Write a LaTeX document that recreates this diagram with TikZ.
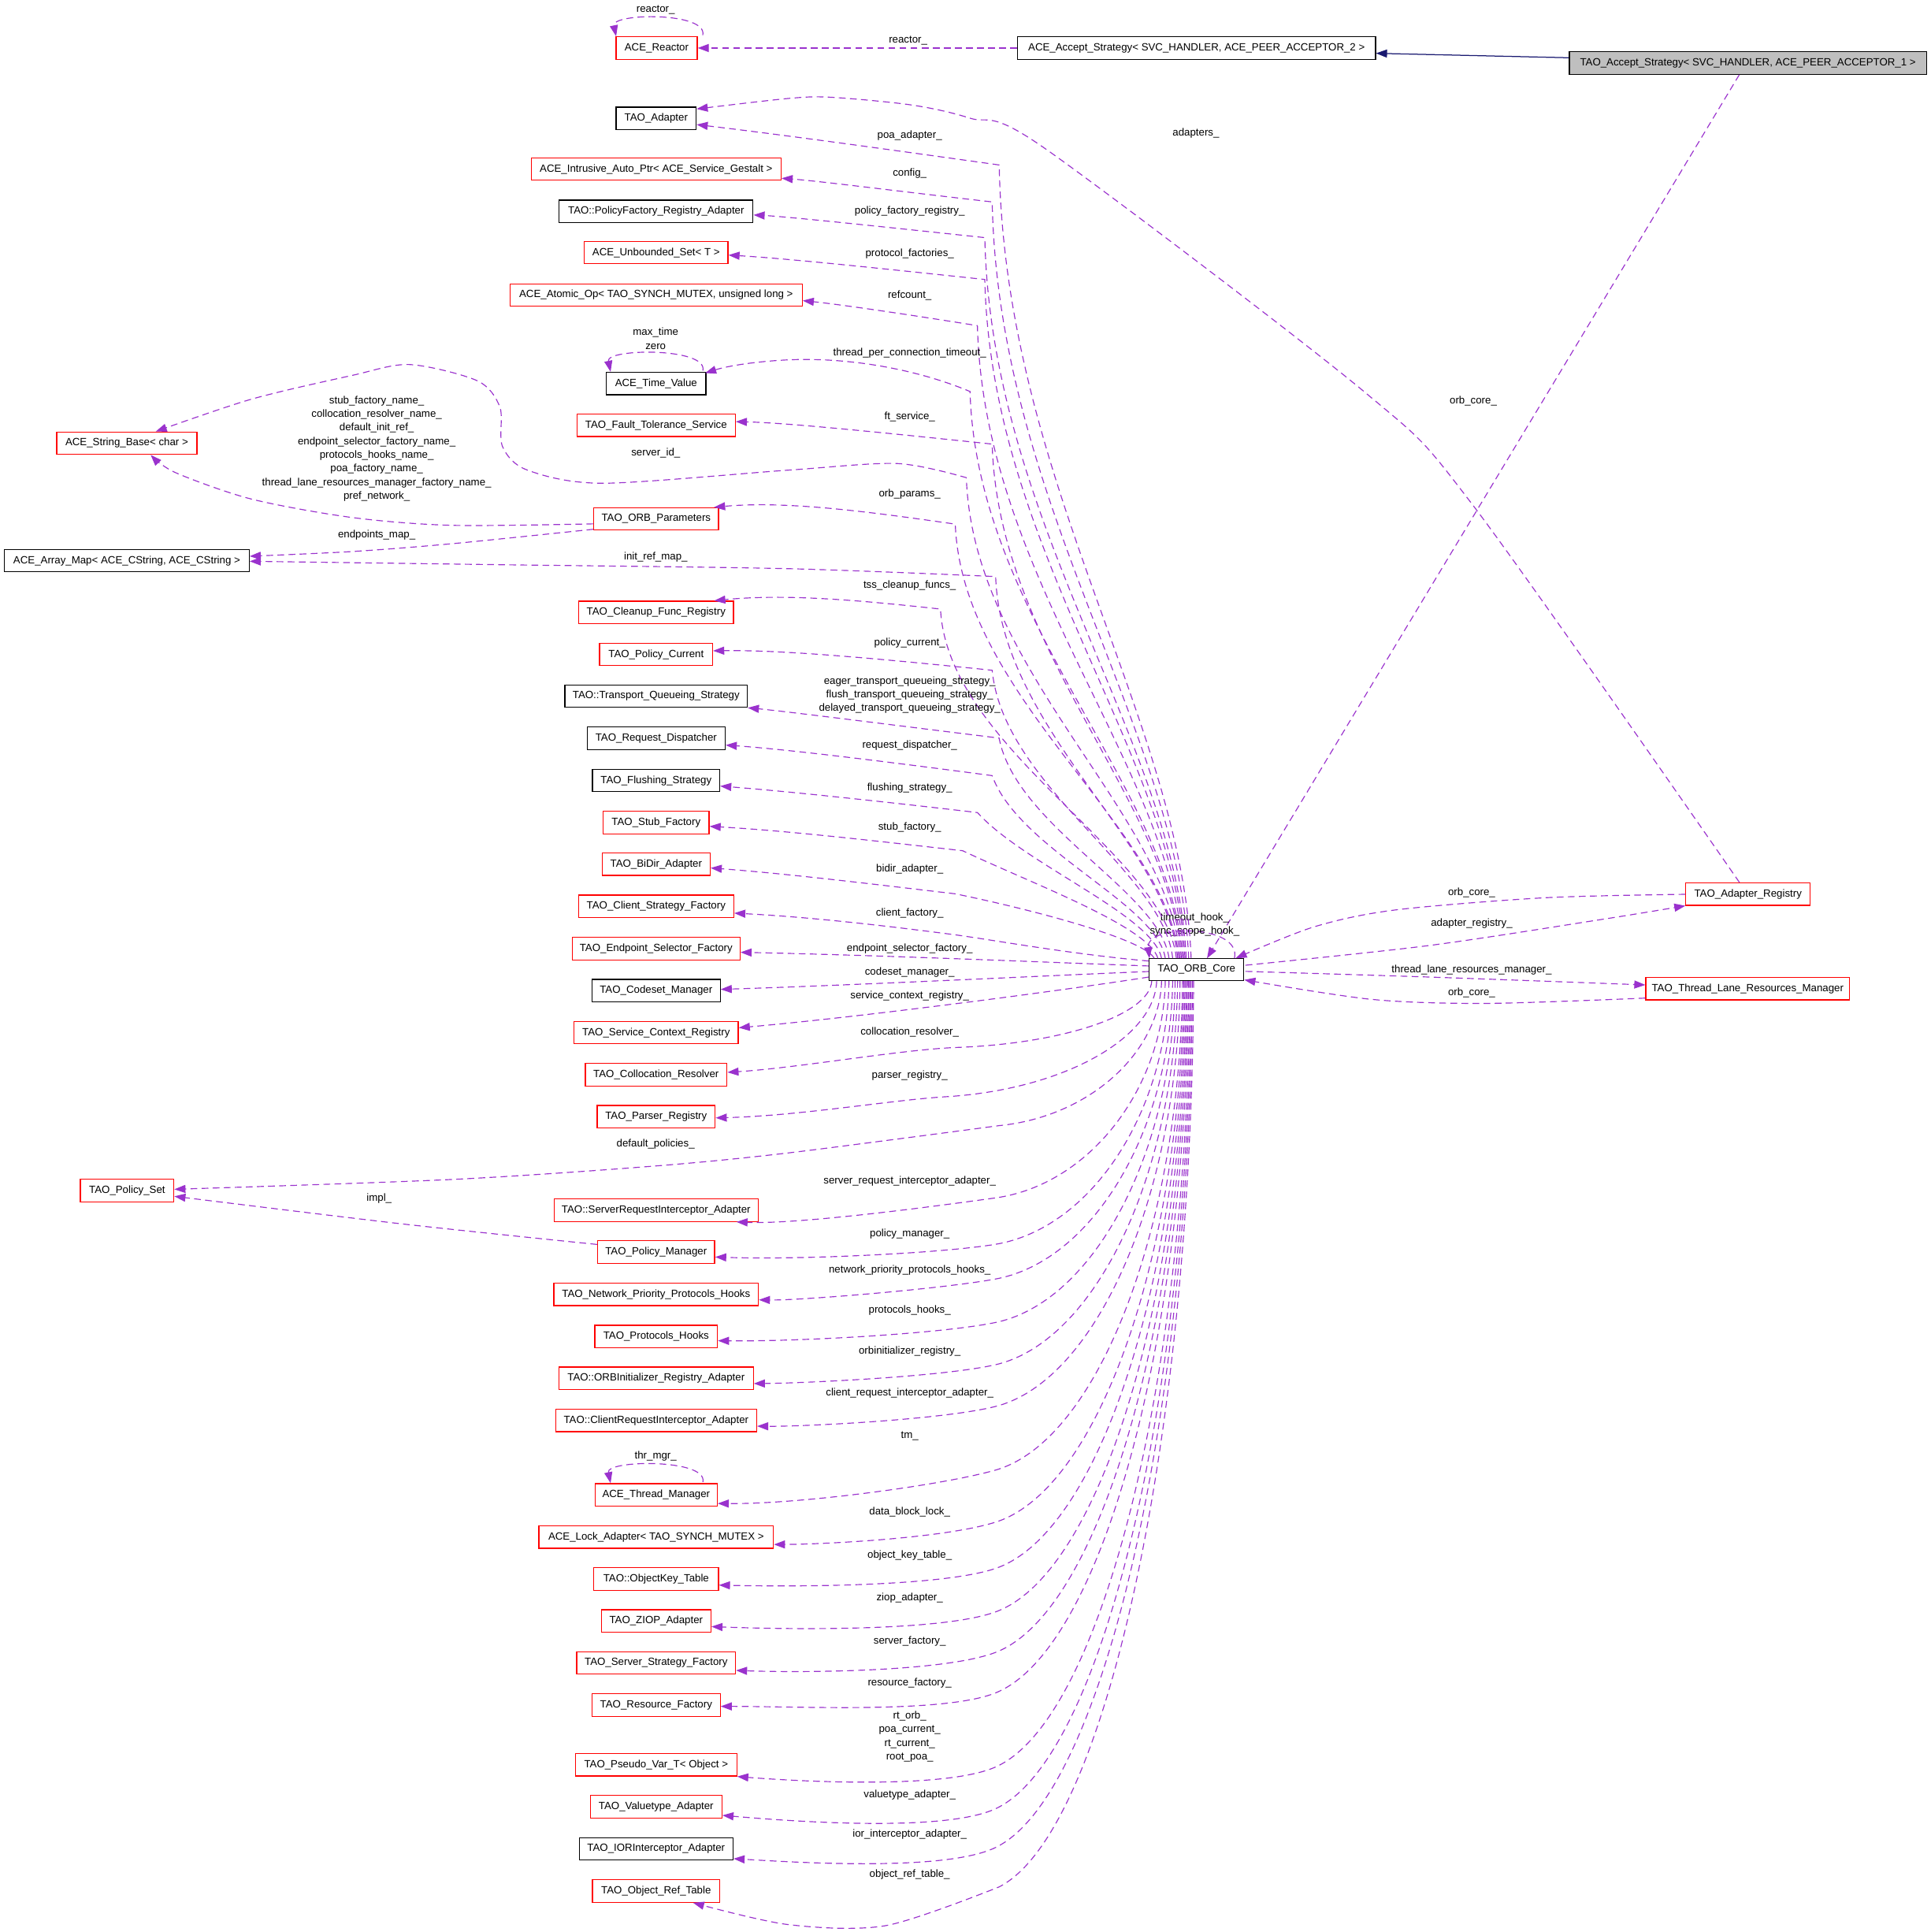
\documentclass[tikz,border=0pt]{standalone}
\usepackage{fontspec}
\setmainfont{Liberation Sans}
\usetikzlibrary{arrows.meta,calc}
\definecolor{dxpurple}{HTML}{9A32CD}
\definecolor{dxnavy}{HTML}{191970}
\definecolor{dxred}{HTML}{FF0000}
\definecolor{dxgray}{HTML}{BFBFBF}
\newcommand\lblfont{\fontsize{8.5}{11.1}\selectfont}
\begin{document}
\begin{tikzpicture}[x=1pt,y=-1pt,
 box/.style={draw=black,line width=0.8pt,inner sep=0pt,minimum height=18.2pt,font=\lblfont,fill=white},
 rbox/.style={box,draw=dxred},
 dep/.style={draw=dxpurple,line width=0.75pt,dash pattern=on 5.5pt off 3.5pt,-{Triangle[length=9pt,width=6.5pt]}},
 inh/.style={draw=dxnavy,line width=0.8pt,-{Triangle[length=9pt,width=6.5pt]}},
 lab/.style={font=\lblfont,inner sep=0pt,align=center}]
\useasboundingbox (0,0) rectangle (1568.64,1569.28);

% ---------- nodes ----------
\node[rbox,minimum width=66pt] (reactor) at (533.4,39) {ACE\_Reactor};
\node[box,minimum width=65pt] (adapter) at (533,96.2) {TAO\_Adapter};
\node[rbox,minimum width=203pt] (intrusive) at (533,137.3) {ACE\_Intrusive\_Auto\_Ptr< ACE\_Service\_Gestalt >};
\node[box,minimum width=157.5pt] (pfreg) at (533,171.6) {TAO::PolicyFactory\_Registry\_Adapter};
\node[rbox,minimum width=116.7pt] (unbset) at (533,205.2) {ACE\_Unbounded\_Set< T >};
\node[rbox,minimum width=237.4pt] (atomic) at (533,239.7) {ACE\_Atomic\_Op< TAO\_SYNCH\_MUTEX, unsigned long >};
\node[box,minimum width=80.8pt] (timev) at (533,311.5) {ACE\_Time\_Value};
\node[rbox,minimum width=113.9pt] (strbase) at (103,360) {ACE\_String\_Base< char >};
\node[rbox,minimum width=128.6pt] (fts) at (533,345.5) {TAO\_Fault\_Tolerance\_Service};
\node[rbox,minimum width=101.3pt] (orbparams) at (533,421.5) {TAO\_ORB\_Parameters};
\node[box,minimum width=198.8pt] (arraymap) at (103,455.4) {ACE\_Array\_Map< ACE\_CString, ACE\_CString >};
\node[rbox,minimum width=125.7pt] (cleanup) at (533,497.4) {TAO\_Cleanup\_Func\_Registry};
\node[rbox,minimum width=91.8pt] (polcur) at (533,531.6) {TAO\_Policy\_Current};
\node[box,minimum width=148.2pt] (tqs) at (533,565.4) {TAO::Transport\_Queueing\_Strategy};
\node[box,minimum width=112.2pt] (reqdisp) at (533,599.7) {TAO\_Request\_Dispatcher};
\node[box,minimum width=103.3pt] (flush) at (533,634) {TAO\_Flushing\_Strategy};
\node[rbox,minimum width=86.1pt] (stubf) at (533,668.2) {TAO\_Stub\_Factory};
\node[rbox,minimum width=87.8pt] (bidir) at (533,702) {TAO\_BiDir\_Adapter};
\node[rbox,minimum width=126.1pt] (csf) at (533,736.2) {TAO\_Client\_Strategy\_Factory};
\node[rbox,minimum width=136.3pt] (esf) at (533,770.5) {TAO\_Endpoint\_Selector\_Factory};
\node[box,minimum width=104.1pt] (codeset) at (533,804.6) {TAO\_Codeset\_Manager};
\node[rbox,minimum width=133.5pt] (scr) at (533,838.8) {TAO\_Service\_Context\_Registry};
\node[rbox,minimum width=115.1pt] (coll) at (533,873) {TAO\_Collocation\_Resolver};
\node[rbox,minimum width=95.9pt] (parser) at (533,907) {TAO\_Parser\_Registry};
\node[rbox,minimum width=75.9pt] (polset) at (103.3,967) {TAO\_Policy\_Set};
\node[rbox,minimum width=165.7pt] (sria) at (533,983) {TAO::ServerRequestInterceptor\_Adapter};
\node[rbox,minimum width=95.1pt] (polmgr) at (533,1017) {TAO\_Policy\_Manager};
\node[rbox,minimum width=166.1pt] (nph) at (533,1051.3) {TAO\_Network\_Priority\_Protocols\_Hooks};
\node[rbox,minimum width=99.6pt] (ph) at (533,1085.5) {TAO\_Protocols\_Hooks};
\node[rbox,minimum width=157.9pt] (orbinit) at (533,1119.5) {TAO::ORBInitializer\_Registry\_Adapter};
\node[rbox,minimum width=163.3pt] (cria) at (533,1153.7) {TAO::ClientRequestInterceptor\_Adapter};
\node[rbox,minimum width=99.2pt] (thrmgr) at (533,1214.2) {ACE\_Thread\_Manager};
\node[rbox,minimum width=190.6pt] (lock) at (533,1248.5) {ACE\_Lock\_Adapter< TAO\_SYNCH\_MUTEX >};
\node[rbox,minimum width=101.2pt] (okt) at (533,1282.5) {TAO::ObjectKey\_Table};
\node[rbox,minimum width=89pt] (ziop) at (533,1316.6) {TAO\_ZIOP\_Adapter};
\node[rbox,minimum width=129pt] (ssf) at (533,1350.8) {TAO\_Server\_Strategy\_Factory};
\node[rbox,minimum width=104.1pt] (resf) at (533,1385) {TAO\_Resource\_Factory};
\node[rbox,minimum width=131pt] (pseudo) at (533,1433.5) {TAO\_Pseudo\_Var\_T< Object >};
\node[rbox,minimum width=106.9pt] (vta) at (533,1467.5) {TAO\_Valuetype\_Adapter};
\node[box,minimum width=124.9pt] (ior) at (533,1501.7) {TAO\_IORInterceptor\_Adapter};
\node[rbox,minimum width=103.3pt] (ort) at (533,1536) {TAO\_Object\_Ref\_Table};
\node[box,minimum width=290.7pt] (aceacc) at (972,39) {ACE\_Accept\_Strategy< SVC\_HANDLER, ACE\_PEER\_ACCEPTOR\_2 >};
\node[box,fill=dxgray,minimum width=290.2pt] (taoacc) at (1419.9,51.2) {TAO\_Accept\_Strategy< SVC\_HANDLER, ACE\_PEER\_ACCEPTOR\_1 >};
\node[box,minimum width=76.8pt,minimum height=17.7pt] (core) at (972,787.6) {TAO\_ORB\_Core};
\node[rbox,minimum width=101pt] (adreg) at (1420,726.2) {TAO\_Adapter\_Registry};
\node[rbox,minimum width=165.4pt] (tlrm) at (1419.7,803) {TAO\_Thread\_Lane\_Resources\_Manager};

% ---------- top ----------
\draw[inh] ($(taoacc.west)+(0,-4.3)$) -- ($(aceacc.east)+(0,4.3)$);
\draw[dep] (aceacc.west) -- (reactor.east);
\node[lab] (l_reactor) at (737.7,33) {reactor\_};
\draw[dep] ($(reactor.north)+(37.5,-1)$) .. controls +(4,-19) and +(-4,-19) .. ($(reactor.north west)+(0.5,0)$);
\node[lab] (l_reactorself) at (532.6,8) {reactor\_};
\draw[dep] ($(timev.north)+(38,-1)$) .. controls +(4,-19) and +(-4,-19) .. ($(timev.north)+(-37,0)$);
\node[lab] (l_timevself) at (532.6,275) {max\_time\\zero};
\draw[dep] ($(thrmgr.north)+(38,-1)$) .. controls +(4,-19) and +(-4,-19) .. ($(thrmgr.north)+(-37,0)$);
\node[lab] (l_thrself) at (532.6,1183) {thr\_mgr\_};

\draw[dep] ($(taoacc.south)+(-7,0)$) -- ($(core.north)+(8.5,0)$);
\node[lab] (l_orbcore1) at (1196.8,325.8) {orb\_core\_};
\draw[dep] plot[smooth] coordinates {($(adreg.north)+(-7,0)$) (1197,411) (1108,318) (847.3,119.5) (788,96) (740.7,85.3) (675,79) (640,80) ($(adapter.east)+(0,-7.7)$)};
\node[lab] (l_adapters) at (971.5,108) {adapters\_};

% ---------- right side ----------
\draw[dep] plot[smooth] coordinates {($(adreg.west)+(0,0.2)$) (1254.9,729.2) (1132.7,739.2) (1066.9,753) ($(core.north east)+(-7,0)$)};
\node[lab] (l_orbcore2) at (1195.5,725) {orb\_core\_};
\draw[dep] plot[smooth] coordinates {($(core.east)+(1,-3.6)$) (1160.8,768) (1301.8,746.7) (adreg.south west)};
\node[lab] (l_adreg) at (1195.5,750) {adapter\_registry\_};
\draw[dep] plot[smooth] coordinates {($(core.east)+(1,1.4)$) (1160.8,793.6) ($(tlrm.west)+(0,-3)$)};
\node[lab] (l_tlrm) at (1195.5,787.6) {thread\_lane\_resources\_manager\_};
\draw[dep] plot[smooth] coordinates {($(tlrm.west)+(0,7.7)$) (1207.8,815) (1113.9,811.7) ($(core.south east)+(0,-1)$)};
\node[lab] (l_orbcore3) at (1195.5,806.3) {orb\_core\_};
\draw[dep] ($(core.north east)+(-8,0)$) .. controls +(6,-28) and +(-3,-28) .. ($(core.north west)+(0.5,0)$);
\node[lab] (l_hooks) at (970.5,751) {timeout\_hook\_\\sync\_scope\_hook\_};

% ---------- upper members ----------
\draw[dep] ($(core.north west)+(34.4,0)$) .. controls (960.2,585.5) and (816.4,392) .. (811.7,134) .. controls (725.9,122) and (640,110) .. ($(adapter.east)+(0,5)$);
\node[lab] (l1) at (739,110) {poa\_adapter\_};
\draw[dep] ($(core.north west)+(32.4,0)$) .. controls (958,594.5) and (810.8,410) .. (806,164) .. controls (735,156) and (665,147) .. ($(intrusive.east)+(0,7.5)$);
\node[lab] (l2) at (739,141) {config\_};
\draw[dep] ($(core.north west)+(30.4,0)$) .. controls (955.8,603.2) and (804.9,427.4) .. (800,193) .. controls (720,184.5) and (640,176) .. ($(pfreg.east)+(0,3)$);
\node[lab] (l3) at (739,171.7) {policy\_factory\_registry\_};
\draw[dep] ($(core.north west)+(29.4,0)$) .. controls (954.9,613.4) and (804.9,447.8) .. (800,227) .. controls (720,218.5) and (640,210) .. ($(unbset.east)+(0,2)$);
\node[lab] (l4) at (739,206) {protocol\_factories\_};
\draw[dep] ($(core.north west)+(28.4,0)$) .. controls (953.6,624.7) and (799,470.3) .. (794,264.5) .. controls (735,255) and (680,247) .. ($(atomic.east)+(0,4.5)$);
\node[lab] (l5) at (739,240) {refcount\_};
\draw[dep] ($(core.north west)+(27.4,0)$) .. controls (952.4,640.7) and (793.2,502.4) .. (788,318) .. controls (745,300) and (690,290) .. (640,292.3) .. controls (615,293.5) and (592,297) .. ($(timev.north east)+(-1,1)$);
\node[lab] (l6) at (739,286.5) {thread\_per\_connection\_timeout\_};
\draw[dep] ($(core.north west)+(26.4,0)$) .. controls (952.3,653.5) and (810.6,528) .. (806,360.7) .. controls (723,352) and (640,343.4) .. ($(fts.east)+(0,-3)$);
\node[lab] (l7) at (739,338.3) {ft\_service\_};
\draw[dep] ($(core.north west)+(25.4,0)$) .. controls (950.3,661.7) and (790.2,544.4) .. (785,388) -- plot[smooth] coordinates {(785,388) (728.8,376.5) (640,381.9) (489.8,392.5) (428.6,381.9) (408.2,362.7) (406.1,330.7) (387.8,309.3) (332.7,296.1) (285.7,305) (204,324.3) ($(strbase.north)+(23.5,0)$)};
\node[lab] (l8) at (532.7,367.8) {server\_id\_};
\draw[dep] ($(core.north west)+(24.4,0)$) .. controls (948.9,673) and (781.5,567) .. (776,425.7) .. controls (708,416) and (640,406.6) .. ($(orbparams.north east)+(-4,0)$);
\node[lab] (l9) at (739,401) {orb\_params\_};
\draw[dep] ($(core.north west)+(23.4,0)$) .. controls (949.6,685.8) and (813.2,592.6) .. (808.8,468.3) -- plot[smooth] coordinates {(808.8,468.3) (640,461.9) (408.2,458.7) ($(arraymap.east)+(0,0.5)$)};
\node[lab] (l10) at (532.7,452.3) {init\_ref\_map\_};
\draw[dep] ($(core.north west)+(22.4,0)$) .. controls (946.4,693.7) and (769.8,608.4) .. (764,494.7) .. controls (702,488) and (640,482) .. ($(cleanup.north east)+(-16,0)$);
\node[lab] (l11) at (739,475.7) {tss\_cleanup\_funcs\_};
\draw[dep] ($(core.north west)+(19.4,0)$) .. controls (945.7,708.6) and (814.8,638.2) .. (806,544.4) .. controls (723,536) and (640,527.8) .. ($(polcur.east)+(0,-3)$);
\node[lab] (l12) at (739,522) {policy\_current\_};
\draw[dep] ($(core.north west)+(16.4,0)$) .. controls (943.1,725.2) and (825.4,671.3) .. (811.6,599.5) .. controls (726,589) and (640,578) .. (tqs.south east);
\node[lab] (l13) at (739,564.6) {eager\_transport\_queueing\_strategy\_\\flush\_transport\_queueing\_strategy\_\\delayed\_transport\_queueing\_strategy\_};
\draw[dep] ($(core.north west)+(13.4,0)$) .. controls (940,734.3) and (827.2,689.6) .. (806,630) .. controls (723,619) and (640,608.7) .. ($(reqdisp.east)+(0,5.5)$);
\node[lab] (l14) at (739,605.7) {request\_dispatcher\_};
\draw[dep] ($(core.north west)+(10.4,0)$) .. controls (936.5,743.3) and (831.5,701.7) .. (794,660) .. controls (717,651) and (640,642.8) .. ($(flush.east)+(0,4.5)$);
\node[lab] (l15) at (739,639.9) {flushing\_strategy\_};
\draw[dep] ($(core.north west)+(7.4,0)$) .. controls (933,752.6) and (837.7,717.4) .. (782,691) .. controls (711,683) and (640,674.8) .. ($(stubf.east)+(0,3)$);
\node[lab] (l16) at (739,672.2) {stub\_factory\_};
\draw[dep] ($(core.north west)+(4.4,0)$) .. controls (929.9,763.1) and (840.8,739.3) .. (776,726) .. controls (708,718) and (640,709.7) .. ($(bidir.east)+(0,3)$);
\node[lab] (l17) at (739,706) {bidir\_adapter\_};
\draw[dep] ($(core.west)+(0,-7)$) .. controls (870,775) and (810,764) .. (776,759.3) .. controls (720,752) and (660,745) .. ($(csf.east)+(0,5.5)$);
\node[lab] (l18) at (739,742) {client\_factory\_};
\draw[dep] ($(core.west)+(0,-3)$) .. controls (860,782) and (720,776) .. ($(esf.east)+(0,3)$);
\node[lab] (l19) at (739,770.3) {endpoint\_selector\_factory\_};
\draw[dep] ($(core.west)+(0,1.5)$) .. controls (860,792) and (700,800) .. ($(codeset.east)+(0,-1)$);
\node[lab] (l20) at (739,790) {codeset\_manager\_};
\draw[dep] ($(core.west)+(0,6)$) .. controls (860,805) and (700,826) .. ($(scr.east)+(0,-4)$);
\node[lab] (l21) at (739,809.2) {service\_context\_registry\_};

% ---------- string base / array map / policy set ----------
\draw[dep] plot[smooth] coordinates {($(orbparams.west)+(0,4)$) (367.3,426.7) (285.7,420.3) (204,405.3) (142.8,384) ($(strbase.south)+(19.4,0)$)};
\node[lab] (l_str) at (306,364.5) {stub\_factory\_name\_\\collocation\_resolver\_name\_\\default\_init\_ref\_\\endpoint\_selector\_factory\_name\_\\protocols\_hooks\_name\_\\poa\_factory\_name\_\\thread\_lane\_resources\_manager\_factory\_name\_\\pref\_network\_};
\draw[dep] plot[smooth] coordinates {($(orbparams.west)+(0,8.4)$) (367.4,441.6) (285.7,448) ($(arraymap.east)+(0,-3.6)$)};
\node[lab] (l_epmap) at (306,434.3) {endpoints\_map\_};
\draw[dep] plot[smooth] coordinates {($(polmgr.west)+(0,-6.2)$) (326.5,994.1) ($(polset.east)+(0,4.7)$)};
\node[lab] (l_impl) at (308,973.2) {impl\_};

% ---------- lower members ----------
\draw[dep] ($(core.south west)+(2.4,0)$) .. controls (934,823.9) and (864.5,847.6) .. (777,850.8) .. controls (732,852.5) and (650,867.2) .. ($(coll.east)+(0,-2)$);
\node[lab] (l22) at (739,838.1) {collocation\_resolver\_};
\draw[dep] ($(core.south west)+(6.4,0)$) .. controls (938,843.6) and (862.9,885.1) .. (768.6,890.8) .. controls (723.7,893.5) and (650,906.3) .. ($(parser.east)+(0,1)$);
\node[lab] (l23) at (739,873.4) {parser\_registry\_};
\draw[dep] ($(core.south west)+(10.4,0)$) .. controls (942,855.4) and (884.4,907.2) .. (811.5,914.3) -- plot[smooth] coordinates {(811.5,914.3) (640,936.5) (530.6,947.2) (367.4,958) ($(polset.east)+(0,-1)$)};
\node[lab] (l24) at (532.6,929) {default\_policies\_};
\draw[dep] ($(core.south west)+(13.4,0)$) .. controls (945,884.7) and (884.7,962.4) .. (808.6,973) .. controls (764,979.2) and (650,994.6) .. ($(sria.south east)+(-18,0)$);
\node[lab] (l25) at (739,959.3) {server\_request\_interceptor\_adapter\_};
\draw[dep] ($(core.south west)+(16.4,0)$) .. controls (948,903.6) and (886.4,997.8) .. (808.6,1010.7) .. controls (764.2,1018) and (650,1023.4) .. ($(polmgr.east)+(0,4)$);
\node[lab] (l26) at (739,1002.3) {policy\_manager\_};
\draw[dep] ($(core.south west)+(19.4,0)$) .. controls (951,917.7) and (888,1024.4) .. (808.6,1038.9) .. controls (764.3,1047) and (650,1056.3) .. ($(nph.east)+(0,4.5)$);
\node[lab] (l27) at (739,1031.9) {network\_priority\_protocols\_hooks\_};
\draw[dep] ($(core.south west)+(21.4,0)$) .. controls (953,935.3) and (889.1,1057.5) .. (808.6,1074.2) .. controls (764.5,1083.3) and (650,1089.7) .. ($(ph.east)+(0,3.5)$);
\node[lab] (l28) at (739,1064.3) {protocols\_hooks\_};
\draw[dep] ($(core.south west)+(23.4,0)$) .. controls (955,952.5) and (890.2,1089.8) .. (808.6,1108.5) .. controls (764.7,1118.5) and (650,1123.5) .. ($(orbinit.east)+(0,4.3)$);
\node[lab] (l29) at (739,1097.6) {orbinitializer\_registry\_};
\draw[dep] ($(core.south west)+(25.4,0)$) .. controls (957,969.4) and (891.3,1121.6) .. (808.6,1142.4) .. controls (765,1153.4) and (650,1158.8) .. ($(cria.east)+(0,4.7)$);
\node[lab] (l30) at (739,1131.5) {client\_request\_interceptor\_adapter\_};
\draw[dep] ($(core.south west)+(27.4,0)$) .. controls (959,995.3) and (892.4,1170.2) .. (808.6,1194.1) .. controls (765.3,1206.4) and (650,1221.8) .. ($(thrmgr.east)+(0,7)$);
\node[lab] (l31) at (739,1166.7) {tm\_};
\draw[dep] ($(core.south west)+(28.4,0)$) .. controls (960,1016.4) and (893,1210) .. (808.6,1236.4) .. controls (765.6,1249.9) and (665,1254.4) .. ($(lock.east)+(0,6)$);
\node[lab] (l32) at (739,1228.4) {data\_block\_lock\_};
\draw[dep] ($(core.south west)+(29.4,0)$) .. controls (961,1035.2) and (893.5,1245.3) .. (808.6,1274) .. controls (765.9,1288.4) and (650,1289) .. ($(okt.east)+(0,5)$);
\node[lab] (l33) at (739,1263.2) {object\_key\_table\_};
\draw[dep] ($(core.south west)+(30.4,0)$) .. controls (962,1052.9) and (894.1,1278.5) .. (808.6,1309.3) .. controls (766.3,1324.6) and (650,1323.9) .. ($(ziop.east)+(0,4.6)$);
\node[lab] (l34) at (739,1298) {ziop\_adapter\_};
\draw[dep] ($(core.south west)+(31.4,0)$) .. controls (963,1069.3) and (894.6,1309.5) .. (808.6,1342.2) .. controls (766.5,1358.2) and (650,1358.7) .. ($(ssf.east)+(0,6)$);
\node[lab] (l35) at (739,1333.3) {server\_factory\_};
\draw[dep] ($(core.south west)+(32.4,0)$) .. controls (964,1085.8) and (895.2,1340.4) .. (808.6,1375.1) .. controls (766.8,1391.8) and (650,1386) .. ($(resf.east)+(0,1)$);
\node[lab] (l36) at (739,1367) {resource\_factory\_};
\draw[dep] ($(core.south west)+(33.4,0)$) .. controls (965,1115.9) and (895.7,1397) .. (808.6,1435.3) .. controls (767.4,1453.4) and (650,1447) .. (pseudo.south east);
\node[lab] (l37) at (739,1410.5) {rt\_orb\_\\poa\_current\_\\rt\_current\_\\root\_poa\_};
\draw[dep] ($(core.south west)+(34.4,0)$) .. controls (966,1132.8) and (896.3,1428.8) .. (808.6,1469.2) .. controls (767.7,1488) and (650,1480) .. ($(vta.east)+(0,7)$);
\node[lab] (l38) at (739,1458) {valuetype\_adapter\_};
\draw[dep] ($(core.south west)+(35.4,0)$) .. controls (967,1148.6) and (896.8,1458.4) .. (808.6,1500.7) .. controls (768,1520.2) and (650,1512.9) .. ($(ior.east)+(0,8)$);
\node[lab] (l39) at (739,1490) {ior\_interceptor\_adapter\_};
\draw[dep] ($(core.south west)+(36.4,0)$) .. controls (968,1164.6) and (898.7,1488.5) .. (811.5,1532.7) -- plot[smooth] coordinates {(811.5,1532.7) (720,1564) (640,1563.2) ($(ort.south)+(30,0)$)};
\node[lab] (l40) at (739,1522.3) {object\_ref\_table\_};
\end{tikzpicture}
\end{document}
